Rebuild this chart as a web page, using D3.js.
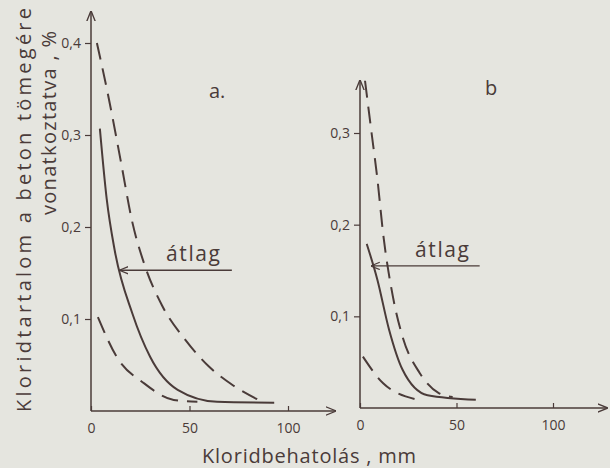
<!DOCTYPE html>
<html>
<head>
<meta charset="utf-8">
<script src="https://cdn.jsdelivr.net/npm/d3@7"></script>
<style>
  body { margin: 0; background: #e5e5df; }
  svg { display: block; }
  text { font-family: "Open Sans", sans-serif; fill: #4a3b39; }
</style>
</head>
<body>
<div id="chart-area"></div>
<script>
// data: [mm, %]
var upperA = [[3, 0.40], [9, 0.34], [15, 0.273], [21, 0.205], [27, 0.16], [36, 0.115], [48, 0.077], [60, 0.048], [72, 0.028], [87, 0.01]];
var meanA  = [[4.5, 0.307], [8, 0.23], [12, 0.175], [21, 0.106], [30, 0.059], [44, 0.023], [64, 0.01], [93, 0.009]];
var lowerA = [[3.5, 0.102], [13, 0.059], [27, 0.03], [42, 0.012], [54, 0.01]];

var upperB = [[2.6, 0.357], [6, 0.30], [9, 0.25], [12, 0.19], [17, 0.122], [22, 0.078], [31, 0.038], [41, 0.016], [48, 0.012]];
var meanB  = [[3.5, 0.179], [9, 0.14], [15, 0.086], [22, 0.042], [35, 0.014], [60, 0.009]];
var lowerB = [[1.5, 0.056], [12, 0.027], [30, 0.009]];

var xTicks = [0, 50, 100];
var yTicksA = [0.1, 0.2, 0.3, 0.4];
var yTicksB = [0.1, 0.2, 0.3];

var ink = "#4a3b39";
var width = 610, height = 468;

var svg = d3.select("#chart-area")
    .append("svg")
        .attr("width", width)
        .attr("height", height);

svg.append("defs").append("marker")
    .attr("id", "arr")
    .attr("viewBox", "0 0 10 10")
    .attr("refX", 9).attr("refY", 5)
    .attr("markerWidth", 7).attr("markerHeight", 7)
    .attr("orient", "auto-start-reverse")
    .append("path")
        .attr("d", "M0,1 L10,5 L0,9")
        .attr("fill", "none")
        .attr("stroke", ink)
        .attr("stroke-width", 1.3);

function comma(d) { return d3.format(".1f")(d).replace(".", ","); }

function panel(opt) {
    var x = d3.scaleLinear().domain([0, 100]).range(opt.xr);
    var y = d3.scaleLinear().domain([0, opt.yTop]).range(opt.yr);
    var g = svg.append("g");

    // axis lines with arrow heads
    g.append("line")
        .attr("x1", x(0)).attr("x2", x(opt.xMax))
        .attr("y1", y(0)).attr("y2", y(0))
        .attr("stroke", ink).attr("stroke-width", 1.5)
        .attr("marker-end", "url(#arr)");
    g.append("line")
        .attr("x1", x(0)).attr("x2", x(0))
        .attr("y1", y(0)).attr("y2", y(opt.yMax))
        .attr("stroke", ink).attr("stroke-width", 1.5)
        .attr("marker-end", "url(#arr)");

    var yAxis = d3.axisLeft(y).tickValues(opt.yTicks).tickSize(6).tickFormat(comma);
    var ya = g.append("g")
        .attr("transform", "translate(" + x(0) + ",0)")
        .call(yAxis);
    ya.select(".domain").remove();
    ya.selectAll("line").attr("stroke", ink).attr("stroke-width", 1.2);
    ya.selectAll("text").attr("font-size", "14px").attr("fill", ink)
        .attr("font-family", "'DejaVu Sans Condensed', sans-serif").attr("dx", "-1");

    var xAxis = d3.axisBottom(x).tickValues(xTicks).tickSizeInner(-5).tickSizeOuter(0)
        .tickPadding(12).tickFormat(function(d) { return d; });
    var xa = g.append("g")
        .attr("transform", "translate(0," + y(0) + ")")
        .call(xAxis);
    xa.select(".domain").remove();
    xa.selectAll("line").attr("stroke", ink).attr("stroke-width", 1.2);
    xa.selectAll("text").attr("font-size", "14px").attr("fill", ink)
        .attr("font-family", "'DejaVu Sans Condensed', sans-serif");

    var line = d3.line()
        .x(function(d) { return x(d[0]); })
        .y(function(d) { return y(d[1]); })
        .curve(d3.curveMonotoneX);

    [[opt.upper, true], [opt.mean, false], [opt.lower, true]].forEach(function(s) {
        g.append("path")
            .attr("d", line(s[0]))
            .attr("fill", "none")
            .attr("stroke", ink)
            .attr("stroke-width", 2)
            .attr("stroke-dasharray", s[1] ? "17,9" : null);
    });

    // átlag pointer
    g.append("line")
        .attr("x1", x(opt.avg.x1)).attr("x2", x(opt.avg.x0))
        .attr("y1", y(opt.avg.y)).attr("y2", y(opt.avg.y))
        .attr("stroke", ink).attr("stroke-width", 1.3)
        .attr("marker-end", "url(#arr)");
    g.append("text")
        .attr("x", opt.avg.tx).attr("y", y(opt.avg.y) - 9)
        .attr("font-size", "21px")
        .attr("textLength", 54).attr("lengthAdjust", "spacing")
        .text("átlag");

    g.append("text")
        .attr("x", opt.lab[0]).attr("y", opt.lab[1])
        .attr("font-size", "20px")
        .text(opt.label);
}

panel({
    xr: [91, 288], yr: [411, 43], yTop: 0.4, xMax: 124, yMax: 0.434,
    yTicks: yTicksA, upper: upperA, mean: meanA, lower: lowerA,
    avg: { y: 0.153, x0: 14.8, x1: 71.5, tx: 166 },
    label: "a.", lab: [209, 98]
});

panel({
    xr: [360, 553], yr: [408, 133], yTop: 0.3, xMax: 128, yMax: 0.357,
    yTicks: yTicksB, upper: upperB, mean: meanB, lower: lowerB,
    avg: { y: 0.155, x0: 6, x1: 62, tx: 415 },
    label: "b", lab: [485, 95]
});

// axis titles
svg.append("text")
    .attr("transform", "translate(31,412) rotate(-90)")
    .attr("font-size", "20px")
    .attr("textLength", 404).attr("lengthAdjust", "spacing")
    .text("Kloridtartalom  a  beton  tömegére");

svg.append("text")
    .attr("transform", "translate(56,215) rotate(-90)")
    .attr("font-size", "20px")
    .attr("textLength", 184).attr("lengthAdjust", "spacing")
    .text("vonatkoztatva , %");

svg.append("text")
    .attr("x", 202).attr("y", 463)
    .attr("font-size", "20px")
    .attr("textLength", 214).attr("lengthAdjust", "spacing")
    .text("Kloridbehatolás , mm");
</script>
</body>
</html>
